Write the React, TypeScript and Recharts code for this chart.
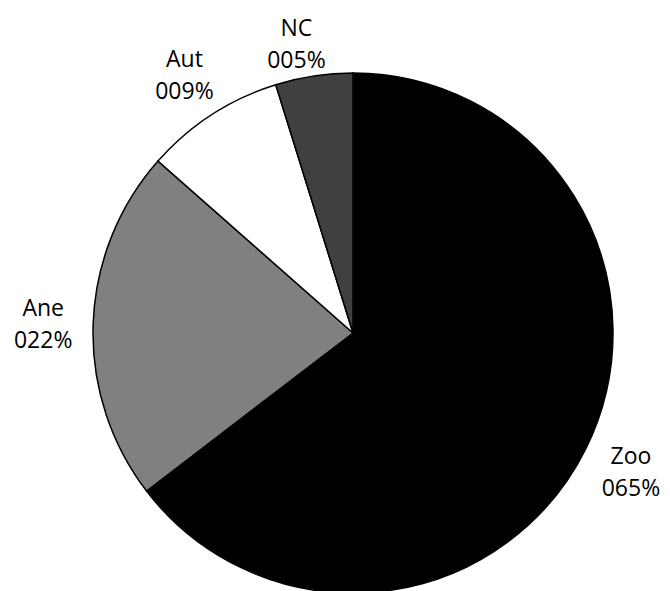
import { Pie, PieChart, Cell } from "recharts";

const categories = ["Zoo", "Ane", "Aut", "NC"];
const shares = [64.6, 21.9, 8.7, 4.8];
const shareLabels = ["065%", "022%", "009%", "005%"];
const fills = ["#000000", "#808080", "#ffffff", "#404040"];

const data = categories.map((name, i) => ({ name, value: shares[i] }));

const RAD = Math.PI / 180;

function renderLabel(props: any) {
  const { cx, cy, midAngle, outerRadius, index } = props;
  const r = outerRadius + 50;
  let x = cx + r * Math.cos(-midAngle * RAD);
  let y = cy + r * Math.sin(-midAngle * RAD);
  // keep labels inside the plot area, like the spreadsheet does
  if (y < 42) {
    x -= 10;
    y = 42;
  }
  return (
    <text
      x={x}
      y={y}
      textAnchor="middle"
      fill="#000"
      style={{ fontFamily: "'Open Sans', sans-serif", fontSize: 23 }}
    >
      <tspan x={x} dy={-6}>{categories[index]}</tspan>
      <tspan x={x} dy={32}>{shareLabels[index]}</tspan>
    </text>
  );
}

export default function App() {
  return (
    <div style={{ position: "absolute", left: 0, top: 0, width: 670, height: 591, background: "#fff" }}>
      <PieChart width={670} height={591} margin={{ top: 0, right: 0, bottom: 0, left: 0 }}>
        <Pie
          data={data}
          dataKey="value"
          nameKey="name"
          cx={353}
          cy={333}
          outerRadius={260}
          startAngle={90}
          endAngle={-270}
          stroke="#000"
          strokeWidth={1.5}
          label={renderLabel}
          labelLine={false}
          isAnimationActive={false}
        >
          {data.map((d, i) => (
            <Cell key={d.name} fill={fills[i]} />
          ))}
        </Pie>
      </PieChart>
    </div>
  );
}
